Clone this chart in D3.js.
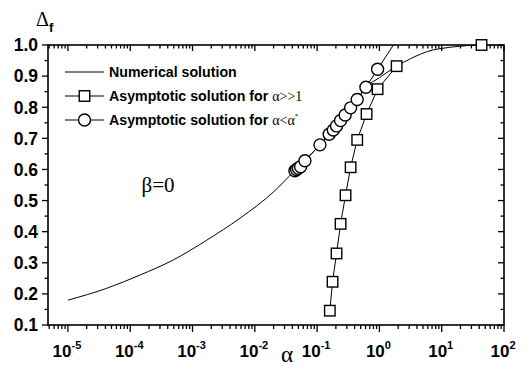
<!DOCTYPE html>
<html><head><meta charset="utf-8">
<script src="https://cdn.jsdelivr.net/npm/d3@7"></script>
<style>body{margin:0;background:#fff}svg{display:block}</style>
</head><body>
<svg id="c" width="528" height="370"></svg>
<script>
// Numerical solution
const numAlpha = [1e-5, 4.2e-5, 1.45e-4, 4.9e-4, 1.7e-3, 5.75e-3, 0.02, 0.042, 0.111, 0.282, 0.44, 0.607, 1.0, 1.89, 3.16, 7.2, 10, 19.5, 43.6, 100];
const numDelta = [0.18, 0.218, 0.261, 0.309, 0.373, 0.443, 0.528, 0.593, 0.679, 0.775, 0.825, 0.864, 0.895, 0.932, 0.956, 0.984, 0.989, 0.996, 1.0, 1.0];
// Asymptotic solution for alpha >> 1 (squares)
const sqAlpha = [0.160, 0.177, 0.205, 0.238, 0.286, 0.345, 0.44, 0.622, 0.935, 1.89, 43.6];
const sqDelta = [0.146, 0.239, 0.330, 0.425, 0.517, 0.607, 0.695, 0.778, 0.858, 0.932, 1.0];
// Asymptotic solution for alpha < alpha* (circles)
const ciAlpha = [0.044, 0.0468, 0.050, 0.0543, 0.0637, 0.111, 0.156, 0.182, 0.205, 0.238, 0.282, 0.345, 0.44, 0.607, 0.935, 2.26];
const ciDelta = [0.596, 0.600, 0.604, 0.609, 0.628, 0.679, 0.713, 0.727, 0.740, 0.757, 0.775, 0.798, 0.825, 0.864, 0.922, 1.04];
const xTickExp = [-5, -4, -3, -2, -1, 0, 1, 2];
const yTicks = [0.1, 0.2, 0.3, 0.4, 0.5, 0.6, 0.7, 0.8, 0.9, 1.0];
const legendLabels = ["Numerical solution", "Asymptotic solution for ", "Asymptotic solution for "];

const L = 48, R = 504, T = 45, B = 325;
const svg = d3.select("#c");
const x = d3.scaleLog().domain([Math.pow(10, -5.32), 100]).range([L, R]);
const y = d3.scaleLinear().domain([0.1, 1.0]).range([B, T]);

svg.append("clipPath").attr("id", "clip").append("rect")
  .attr("x", L).attr("y", T).attr("width", R - L).attr("height", B - T);

const xMinor = [];
for (let e = -6; e < 2; e++) for (let k = 2; k <= 9; k++) {
  const v = k * Math.pow(10, e);
  if (v > x.domain()[0] && v < 100) xMinor.push(v);
}
const xMajor = xTickExp.map(e => Math.pow(10, e));
const g = svg.append("g").attr("stroke", "#000").attr("stroke-width", 1.3);
xMajor.forEach(v => g.append("line").attr("x1", x(v)).attr("x2", x(v)).attr("y1", B).attr("y2", B + 7));
xMinor.forEach(v => g.append("line").attr("x1", x(v)).attr("x2", x(v)).attr("y1", B).attr("y2", B + 4));
xMajor.forEach(v => g.append("line").attr("x1", x(v)).attr("x2", x(v)).attr("y1", T).attr("y2", T + 6));
xMinor.forEach(v => g.append("line").attr("x1", x(v)).attr("x2", x(v)).attr("y1", T).attr("y2", T + 3.5));
const yMinor = d3.range(0.15, 1.0, 0.1);
yTicks.forEach(v => {
  g.append("line").attr("x1", L - 6).attr("x2", L).attr("y1", y(v)).attr("y2", y(v));
  g.append("line").attr("x1", R - 6).attr("x2", R).attr("y1", y(v)).attr("y2", y(v));
});
yMinor.forEach(v => {
  g.append("line").attr("x1", L - 3.5).attr("x2", L).attr("y1", y(v)).attr("y2", y(v));
  g.append("line").attr("x1", R - 3.5).attr("x2", R).attr("y1", y(v)).attr("y2", y(v));
});
svg.append("rect").attr("x", L).attr("y", T).attr("width", R - L).attr("height", B - T)
  .attr("fill", "none").attr("stroke", "#000").attr("stroke-width", 1.6);

yTicks.forEach(v => svg.append("text").attr("x", L - 10).attr("y", y(v)).attr("dy", "0.36em")
  .attr("text-anchor", "end").attr("font-family", "Liberation Sans, Arial, sans-serif")
  .attr("font-weight", "bold").attr("font-size", 17.5).text(v.toFixed(1)));
xTickExp.forEach(e => {
  const t = svg.append("text").attr("x", x(Math.pow(10, e)) - 1).attr("y", 357)
    .attr("text-anchor", "middle").attr("font-family", "Liberation Sans, Arial, sans-serif")
    .attr("font-weight", "bold").attr("font-size", 17);
  t.append("tspan").text("10");
  t.append("tspan").attr("dy", -8).attr("font-size", 11).text(e < 0 ? "-" + (-e) : String(e));
});

svg.append("text").attr("x", 287).attr("y", 362).attr("text-anchor", "middle")
  .attr("font-family", "Liberation Serif, Times New Roman, serif").attr("font-size", 23).text("α");
const yt = svg.append("text").attr("x", 36).attr("y", 26).attr("font-family", "Liberation Serif, serif").attr("font-size", 20);
yt.append("tspan").text("Δ");
yt.append("tspan").attr("dy", 6).attr("font-family", "Liberation Sans, Arial, sans-serif")
  .attr("font-weight", "bold").attr("font-size", 13).text("f");
svg.append("text").attr("x", 158).attr("y", 192).attr("text-anchor", "middle")
  .attr("font-family", "Liberation Serif, serif").attr("font-size", 21).text("β=0");

const num = numAlpha.map((a, i) => [a, numDelta[i]]);
const sq = sqAlpha.map((a, i) => [a, sqDelta[i]]);
const ci = ciAlpha.map((a, i) => [a, ciDelta[i]]);
const plot = svg.append("g").attr("clip-path", "url(#clip)");
const lineC = d3.line().x(d => x(d[0])).y(d => y(d[1])).curve(d3.curveMonotoneX);
const lineS = d3.line().x(d => x(d[0])).y(d => y(d[1]));
plot.append("path").attr("d", lineC(num)).attr("fill", "none").attr("stroke", "#000").attr("stroke-width", 1);
plot.append("path").attr("d", lineS(sq.slice(0, sq.length - 1))).attr("fill", "none").attr("stroke", "#000").attr("stroke-width", 1);
plot.append("path").attr("d", lineS(ci)).attr("fill", "none").attr("stroke", "#000").attr("stroke-width", 1);
plot.selectAll(".ci").data(ci).join("circle").attr("cx", d => x(d[0])).attr("cy", d => y(d[1])).attr("r", 6)
  .attr("fill", "#fff").attr("stroke", "#000").attr("stroke-width", 1.4);
const s = 10.5;
svg.selectAll(".sq").data(sq).join("rect").attr("x", d => x(d[0]) - s / 2).attr("y", d => y(d[1]) - s / 2)
  .attr("width", s).attr("height", s).attr("fill", "#fff").attr("stroke", "#000").attr("stroke-width", 1.4);

const lg = svg.append("g").attr("font-family", "Liberation Sans, Arial, sans-serif");
const rows = [72, 96, 120];
rows.forEach((ry, i) => {
  lg.append("line").attr("x1", 65).attr("x2", 104).attr("y1", ry).attr("y2", ry).attr("stroke", "#000").attr("stroke-width", 1);
  if (i === 1) lg.append("rect").attr("x", 84.5 - s / 2).attr("y", ry - s / 2).attr("width", s).attr("height", s)
    .attr("fill", "#fff").attr("stroke", "#000").attr("stroke-width", 1.4);
  if (i === 2) lg.append("circle").attr("cx", 84.5).attr("cy", ry).attr("r", 6)
    .attr("fill", "#fff").attr("stroke", "#000").attr("stroke-width", 1.4);
  const t = lg.append("text").attr("x", 109).attr("y", ry).attr("dy", "0.35em")
    .attr("font-weight", "bold").attr("font-size", 14.2);
  t.append("tspan").text(legendLabels[i]);
  if (i === 1) t.append("tspan").attr("font-family", "Liberation Serif, serif").attr("font-weight", "normal").attr("font-size", 14).text("α>>1");
  if (i === 2) {
    t.append("tspan").attr("font-family", "Liberation Serif, serif").attr("font-weight", "normal").attr("font-size", 14).text("α<α");
    t.append("tspan").attr("font-family", "Liberation Serif, serif").attr("font-weight", "normal").attr("font-size", 7).attr("dy", -7).text("*");
  }
});
</script>
</body></html>
